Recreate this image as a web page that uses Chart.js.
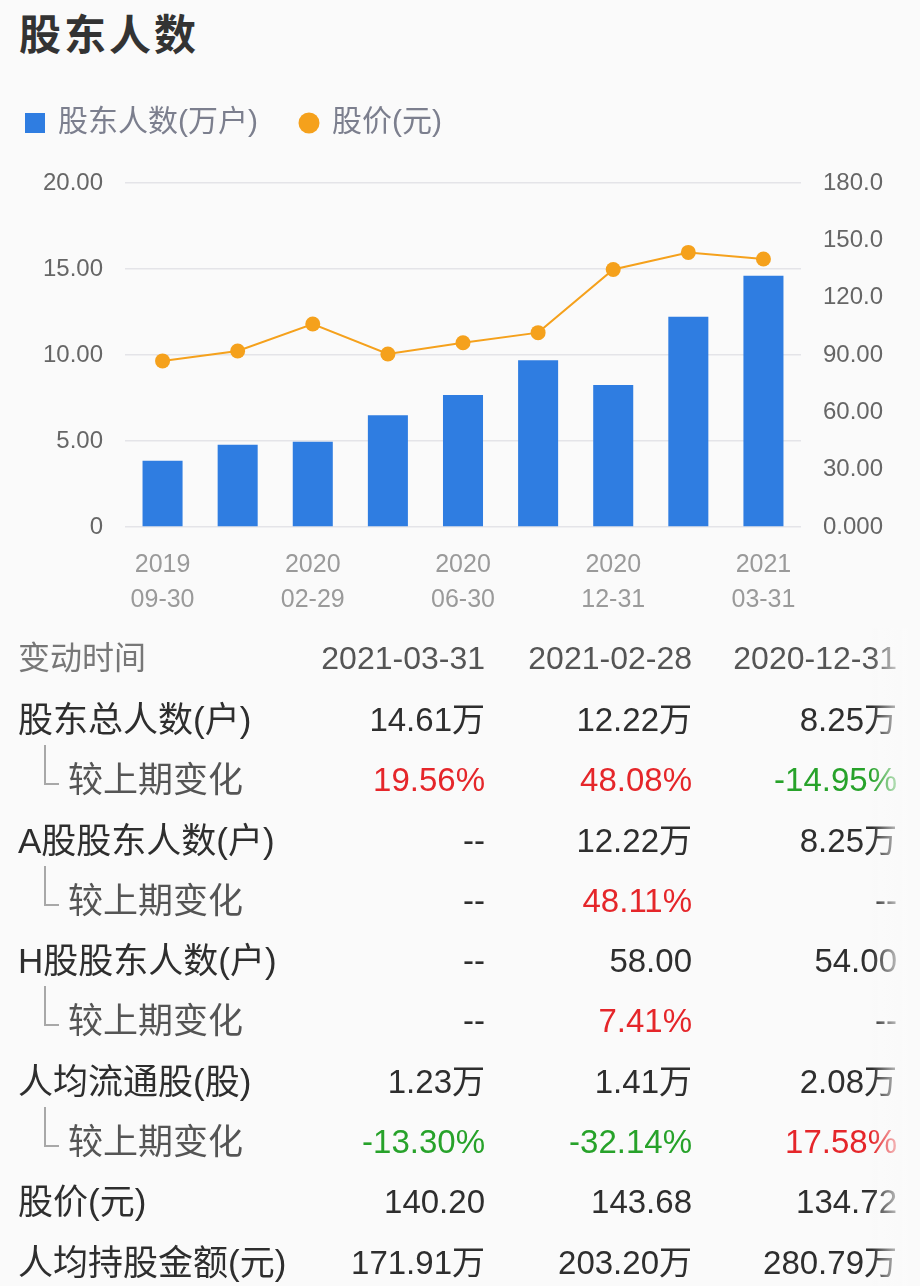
<!DOCTYPE html>
<html>
<head>
<meta charset="utf-8">
<script src="https://cdn.jsdelivr.net/npm/chart.js@4"></script>
<style>
  html, body { margin: 0; padding: 0; background: #fafafa; }
  body { width: 920px; height: 1286px; position: relative; overflow: hidden;
         font-family: "Liberation Sans", "Noto Sans CJK SC", sans-serif; }
  #title { position: absolute; left: 19px; top: 1px; font-size: 42px; font-weight: bold;
           color: #333; letter-spacing: 3px; font-family: "Noto Sans CJK SC", sans-serif; }
  #chartBox { position: absolute; left: -16px; top: 65px; width: 936px; height: 565px; }
  #table { position: absolute; left: 0; top: 628px; width: 920px; }
  .row { position: relative; height: 60.3px; }
  .row div { position: absolute; top: 0; line-height: 60px; white-space: nowrap; }
  .lbl { left: 18px; color: #2e2e2e; font-size: 35px; }
  .sub { left: 68px; color: #555; font-size: 35px; }
  .corner { position: absolute; left: 44px; top: -5px; width: 13px; height: 38px;
            border-left: 2px solid #a8a8a8; border-bottom: 2px solid #a8a8a8; }
  .val { font-size: 33px; color: #2e2e2e; text-align: right; }
  .head .lbl { color: #777; font-size: 32px; }
  .head .val { color: #555; font-size: 32px; }
  .up { color: #e5262a !important; }
  .down { color: #27a22a !important; }
  #fade { position: absolute; left: 872px; top: 628px; width: 48px; height: 658px;
          background: linear-gradient(to right, rgba(250,250,250,0), #fafafa 75%); }
</style>
</head>
<body>
<div id="title">股东人数</div>
<div id="chartBox"><canvas id="chart"></canvas></div>
<div id="table"></div>
<div id="fade"></div>
<script>
// 横軸の期日
const categories = ['2019-09-30', '2019-12-31', '2020-02-29', '2020-03-31', '2020-06-30',
                    '2020-09-30', '2020-12-31', '2021-02-28', '2021-03-31'];
// 股东人数(万户)
const holders = [3.85, 4.78, 4.95, 6.50, 7.68, 9.70, 8.25, 12.22, 14.61];
// 股价(元)
const prices = [86.9, 92.1, 106.2, 90.5, 96.4, 101.7, 134.72, 143.68, 140.20];
// 目盛ラベル
const leftTickLabels = ['0', '5.00', '10.00', '15.00', '20.00'];
const rightTickLabels = ['0.000', '30.00', '60.00', '90.00', '120.0', '150.0', '180.0'];

// 表のデータ
const tableDates = ['2021-03-31', '2021-02-28', '2020-12-31'];
const totalHolders = ['14.61万', '12.22万', '8.25万'];
const totalChange = ['19.56%', '48.08%', '-14.95%'];
const aHolders = ['--', '12.22万', '8.25万'];
const aChange = ['--', '48.11%', '--'];
const hHolders = ['--', '58.00', '54.00'];
const hChange = ['--', '7.41%', '--'];
const floatPerHolder = ['1.23万', '1.41万', '2.08万'];
const floatChange = ['-13.30%', '-32.14%', '17.58%'];
const priceRow = ['140.20', '143.68', '134.72'];
const valuePerHolder = ['171.91万', '203.20万', '280.79万'];

const BLUE = '#2f7de1';
const ORANGE = '#f5a11c';

// 凡例用のマーカー
const makeMarker = function (kind) {
    const c = document.createElement('canvas');
    const s = kind === 'rect' ? 20 : 22;
    c.width = s; c.height = s;
    const g = c.getContext('2d');
    if (kind === 'rect') {
        g.fillStyle = BLUE;
        g.fillRect(0, 0, 20, 20);
    } else {
        g.fillStyle = ORANGE;
        g.beginPath();
        g.arc(11, 11, 10.5, 0, Math.PI * 2);
        g.fill();
    }
    return c;
};
const markers = [makeMarker('rect'), makeMarker('circle')];

// 凡例の高さを固定する
const legendHeight = {
    id: 'legendHeight',
    beforeInit(chart) {
        const fit = chart.legend.fit;
        chart.legend.fit = function () {
            fit.bind(chart.legend)();
            this.height = 118;
        };
    }
};

const ctx = document.getElementById('chart');
new Chart(ctx, {
    data: {
        labels: categories,
        datasets: [
            {
                type: 'line',
                label: '股价(元)',
                data: prices,
                yAxisID: 'y1',
                borderColor: ORANGE,
                backgroundColor: ORANGE,
                borderWidth: 2,
                pointRadius: 7.5,
                pointBorderWidth: 0,
                pointBackgroundColor: ORANGE,
                tension: 0,
                order: 0,
            },
            {
                type: 'bar',
                label: '股东人数(万户)',
                data: holders,
                yAxisID: 'y',
                backgroundColor: BLUE,
                categoryPercentage: 1,
                barPercentage: 0.533,
                order: 1,
            },
        ],
    },
    plugins: [legendHeight],
    options: {
        responsive: true,
        maintainAspectRatio: false,
        animation: false,
        layout: { padding: 0 },
        plugins: {
            tooltip: { enabled: false },
            legend: {
                display: true,
                position: 'top',
                align: 'start',
                reverse: true,
                labels: {
                    usePointStyle: true,
                    boxWidth: 16,
                    boxHeight: 20,
                    pointStyleWidth: 16,
                    padding: 43,
                    color: '#7c7f8e',
                    font: { size: 30, family: '"Liberation Sans", "Noto Sans CJK SC", sans-serif' },
                    generateLabels(chart) {
                        const items = Chart.defaults.plugins.legend.labels.generateLabels(chart);
                        items.forEach(item => {
                            item.pointStyle = item.datasetIndex === 1 ? markers[0] : markers[1];
                        });
                        return items;
                    },
                },
            },
        },
        scales: {
            x: {
                grid: { display: false },
                border: { display: false },
                afterFit: s => { s.height = 103; },
                ticks: {
                    autoSkip: false,
                    maxRotation: 0,
                    padding: 12,
                    color: '#9a9a9a',
                    font: { size: 25, lineHeight: 1.42 },
                    callback: function (val, index) {
                        if (index % 2 !== 0) return '';
                        const d = categories[index];
                        return [d.slice(0, 4), d.slice(5)];
                    },
                },
            },
            y: {
                position: 'left',
                min: 0,
                max: 20,
                afterFit: s => { s.width = 141; },
                border: { display: false },
                grid: { color: '#e4e4e8', drawTicks: false, lineWidth: 1.5 },
                ticks: {
                    stepSize: 5,
                    padding: 22,
                    color: '#666',
                    font: { size: 24 },
                    callback: (v) => leftTickLabels[v / 5],
                },
            },
            y1: {
                position: 'right',
                min: 0,
                max: 180,
                afterFit: s => { s.width = 119; },
                border: { display: false },
                grid: { display: false, drawTicks: false },
                ticks: {
                    stepSize: 30,
                    padding: 22,
                    color: '#666',
                    font: { size: 24 },
                    callback: (v) => rightTickLabels[v / 30],
                },
            },
        },
    },
});

// 表を作成する
const colRight = [485, 692, 897];
const colorOf = (t) => t.startsWith('-') && t !== '--' ? 'down' : (t.endsWith('%') ? 'up' : '');
const rows = [
    { label: '变动时间', cells: tableDates, head: true },
    { label: '股东总人数(户)', cells: totalHolders },
    { label: '较上期变化', cells: totalChange, sub: true },
    { label: 'A股股东人数(户)', cells: aHolders },
    { label: '较上期变化', cells: aChange, sub: true },
    { label: 'H股股东人数(户)', cells: hHolders },
    { label: '较上期变化', cells: hChange, sub: true },
    { label: '人均流通股(股)', cells: floatPerHolder },
    { label: '较上期变化', cells: floatChange, sub: true },
    { label: '股价(元)', cells: priceRow },
    { label: '人均持股金额(元)', cells: valuePerHolder },
];
const table = document.getElementById('table');
rows.forEach((r, i) => {
    const row = document.createElement('div');
    row.className = 'row' + (r.head ? ' head' : '');
    if (i === 0) row.style.height = '62px';
    let html = '';
    if (r.sub) html += '<span class="corner"></span>';
    html += `<div class="${r.sub ? 'sub' : 'lbl'}">${r.label}</div>`;
    r.cells.forEach((t, j) => {
        const cls = r.head ? '' : colorOf(t);
        html += `<div class="val ${cls}" style="right:${920 - colRight[j]}px">${t}</div>`;
    });
    row.innerHTML = html;
    table.appendChild(row);
});
</script>
</body>
</html>
